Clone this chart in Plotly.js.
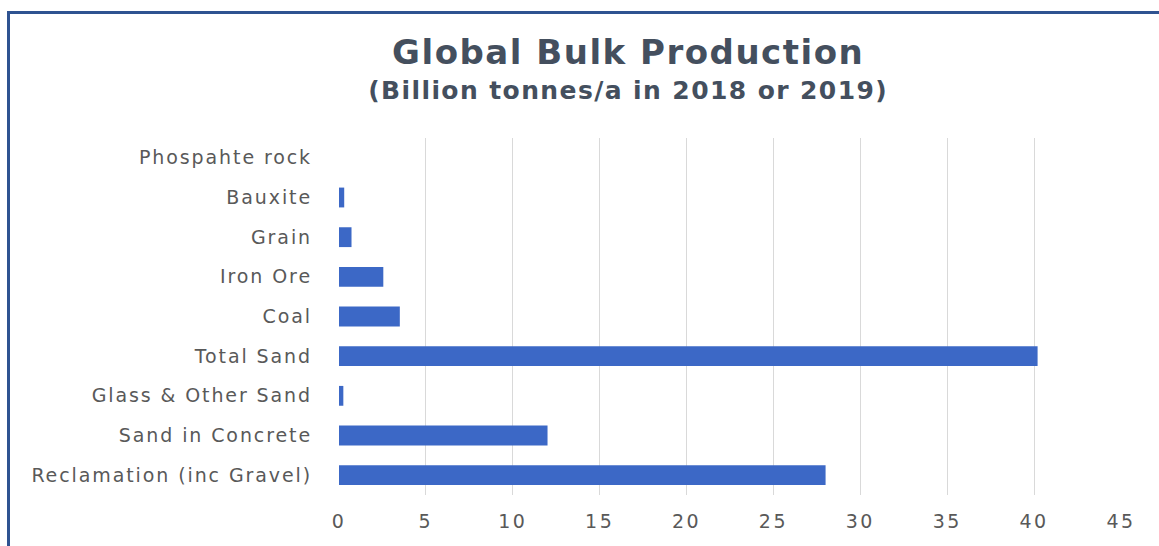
<!DOCTYPE html>
<html>
<head>
<meta charset="utf-8">
<script src="https://cdn.plot.ly/plotly-3.0.1.min.js"></script>
<style>
  html, body { margin: 0; padding: 0; background: #ffffff; }
  #wrap { position: relative; width: 1159px; height: 546px; overflow: hidden; }
  #chart { position: absolute; left: 0; top: 0; width: 1159px; height: 546px; }
  #frame { position: absolute; left: 7px; top: 11px; width: 1200px; height: 600px;
           border-top: 3px solid #2f5391; border-left: 3px solid #2f5391; pointer-events: none; }
  #chart .ytick text { letter-spacing: 1.9px; }
  #chart .xtick text { letter-spacing: 2.5px; }
  #chart .gtitle { letter-spacing: 1.5px; }
  #chart .annotation-text { letter-spacing: 1.4px; }
</style>
</head>
<body>
<div id="wrap">
  <div id="chart"></div>
  <div id="frame"></div>
</div>
<script>
const categories = [
  "Reclamation (inc Gravel)",
  "Sand in Concrete",
  "Glass & Other Sand",
  "Total Sand",
  "Coal",
  "Iron Ore",
  "Grain",
  "Bauxite",
  "Phospahte rock"
];
const values = [28, 12, 0.25, 40.2, 3.5, 2.55, 0.72, 0.3, 0];
const xTicks = [0, 5, 10, 15, 20, 25, 30, 35, 40, 45];
const titleText = "Global Bulk Production";
const subtitleText = "(Billion tonnes/a in 2018 or 2019)";

const trace = {
  type: "bar",
  orientation: "h",
  y: categories,
  x: values,
  marker: { color: "#3c68c6", line: { width: 0 } },
  width: 0.5,
  hoverinfo: "x+y"
};

const layout = {
  width: 1159,
  height: 546,
  paper_bgcolor: "#ffffff",
  plot_bgcolor: "#ffffff",
  margin: { l: 339, r: 38, t: 138, b: 51 },
  showlegend: false,
  font: { family: "'DejaVu Sans', sans-serif", color: "#595959" },
  title: {
    text: "<b>" + titleText + "</b>",
    font: { family: "'DejaVu Sans', sans-serif", size: 34, color: "#444f5e" },
    x: 0.542,
    xanchor: "center",
    y: 0.905,
    yanchor: "middle"
  },
  annotations: [{
    text: "<b>" + subtitleText + "</b>",
    xref: "paper", yref: "paper",
    x: 0.37, y: 1.132,
    xanchor: "center", yanchor: "middle",
    showarrow: false,
    font: { family: "'DejaVu Sans', sans-serif", size: 25, color: "#444f5e" }
  }],
  xaxis: {
    range: [0, 45],
    tickvals: xTicks,
    ticktext: xTicks.map(String),
    showgrid: true,
    gridcolor: "#d9d9d9",
    gridwidth: 1,
    zeroline: false,
    showline: false,
    ticks: "",
    ticklabelstandoff: 13,
    tickfont: { size: 19, color: "#595959" },
    fixedrange: true
  },
  yaxis: {
    type: "category",
    categoryorder: "array",
    categoryarray: categories,
    showgrid: false,
    zeroline: false,
    showline: false,
    ticks: "",
    ticklabelstandoff: 26,
    tickfont: { size: 19, color: "#595959" },
    fixedrange: true
  },
  bargap: 0.5
};

Plotly.newPlot("chart", [trace], layout, { displayModeBar: false, staticPlot: true });
</script>
</body>
</html>
